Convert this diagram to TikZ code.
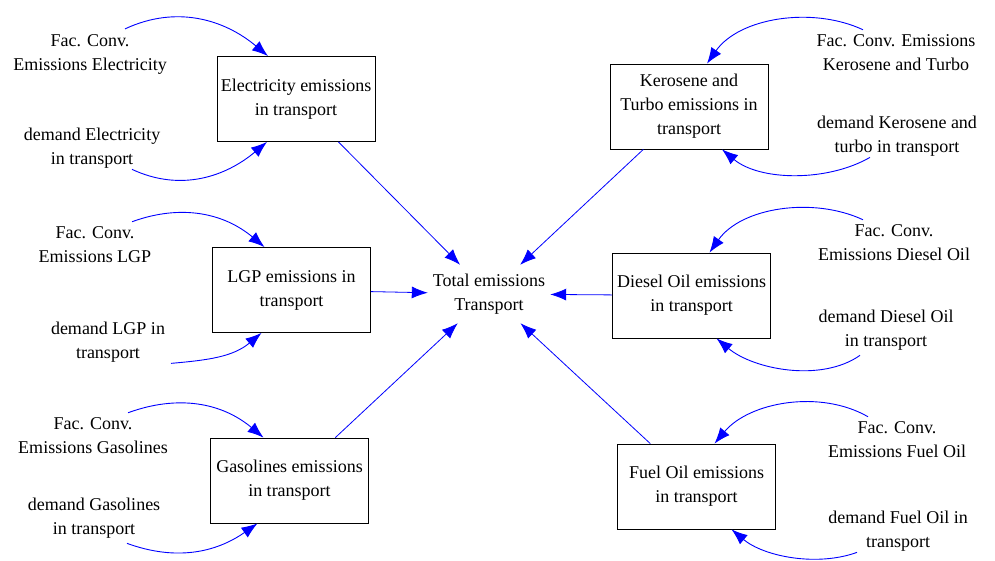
\documentclass[tikz,border=0pt]{standalone}
\usepackage{fontspec}
\setmainfont{Liberation Serif}
\usetikzlibrary{arrows.meta}
\begin{document}
\begin{tikzpicture}[x=1pt,y=1pt,
  every node/.style={font=\fontsize{18}{24}\selectfont, align=center},
  box/.style={draw, line width=0.8pt, minimum width=158pt, minimum height=85pt, inner sep=3pt},
  lbl/.style={inner sep=5pt},
  link/.style={blue, line width=0.9pt, -{Latex[length=16pt,width=12pt]}},
  flow/.style={blue, line width=0.8pt, -{Latex[length=16pt,width=12pt]}}]
\useasboundingbox (0,0) rectangle (995,-561);

\node [minimum width=122pt, minimum height=58pt, inner sep=0pt] (total) at (489,-294) {Total emissions\\Transport};

\node [box] (elecBox) at (296,-99) {Electricity emissions\\in transport};
\node [box] (lgpBox) at (291.5,-290) {LGP emissions in\\transport};
\node [box] (gasBox) at (289.5,-480.5) {Gasolines emissions\\in transport};
\node [box] (kerBox) at (689,-106.5) {Kerosene and\\Turbo emissions in\\transport};
\node [box] (dieBox) at (691.5,-295.5) {Diesel Oil emissions\\in transport};
\node [box] (fuelBox) at (696.5,-486.5) {Fuel Oil emissions\\in transport};

\node [lbl] (facElec) at (90,-54) {Fac. Conv.\\Emissions Electricity};
\node [lbl] (demElec) at (92,-148) {demand Electricity\\in transport};
\node [lbl] (facLGP) at (95,-245) {Fac. Conv.\\Emissions LGP};
\node [lbl] (demLGP) at (108,-342) {demand LGP in\\transport};
\node [lbl] (facGas) at (93,-436) {Fac. Conv.\\Emissions Gasolines};
\node [lbl] (demGas) at (94,-518) {demand Gasolines\\in transport};
\node [lbl] (facKer) at (896,-53) {Fac. Conv. Emissions\\Kerosene and Turbo};
\node [lbl] (demKer) at (897,-136) {demand Kerosene and\\turbo in transport};
\node [lbl] (facDie) at (894,-243) {Fac. Conv.\\Emissions Diesel Oil};
\node [lbl] (demDie) at (886,-330) {demand Diesel Oil\\in transport};
\node [lbl] (facFuel) at (897,-440) {Fac. Conv.\\Emissions Fuel Oil};
\node [lbl] (demFuel) at (898,-531) {demand Fuel Oil in\\transport};

\draw [flow] (elecBox) -- (total);
\draw [flow] (lgpBox) -- (total);
\draw [flow] (gasBox) -- (total);
\draw [flow] (kerBox) -- (total);
\draw [flow] (dieBox) -- (total);
\draw [flow] (fuelBox) -- (total);

\draw [link] ([xshift=35pt]facElec.north) to[out=25,in=140] ([xshift=-28pt]elecBox.north);
\draw [link] ([xshift=40pt,yshift=4pt]demElec.south) to[out=-25,in=-140] ([xshift=-29pt]elecBox.south);
\draw [link] ([xshift=37pt]facLGP.north) to[out=20,in=140] ([xshift=-27pt]lgpBox.north);
\draw [link] ([xshift=63pt,yshift=4pt]demLGP.south) to[out=5,in=-140] ([xshift=-30pt]lgpBox.south);
\draw [link] ([xshift=35pt]facGas.north) to[out=20,in=140] ([xshift=-26pt]gasBox.north);
\draw [link] ([xshift=33pt]demGas.south) to[out=-20,in=-145] ([xshift=-32pt]gasBox.south);
\draw [link] ([xshift=-33pt]facKer.north) to[out=155,in=55,looseness=0.9] ([xshift=18pt]kerBox.north);
\draw [link] ([xshift=-27pt,yshift=4pt]demKer.south) to[out=-150,in=-40,looseness=0.85] ([xshift=33pt]kerBox.south);
\draw [link] ([xshift=-31pt]facDie.north) to[out=155,in=55,looseness=0.9] ([xshift=18pt]dieBox.north);
\draw [link] ([xshift=-26pt]demDie.south) to[out=-145,in=-40,looseness=0.85] ([xshift=25pt]dieBox.south);
\draw [link] ([xshift=-29pt]facFuel.north) to[out=150,in=50,looseness=0.9] ([xshift=18pt]fuelBox.north);
\draw [link] ([xshift=-41pt,yshift=4pt]demFuel.south) to[out=-160,in=-40,looseness=0.85] ([xshift=35pt]fuelBox.south);

\end{tikzpicture}
\end{document}
